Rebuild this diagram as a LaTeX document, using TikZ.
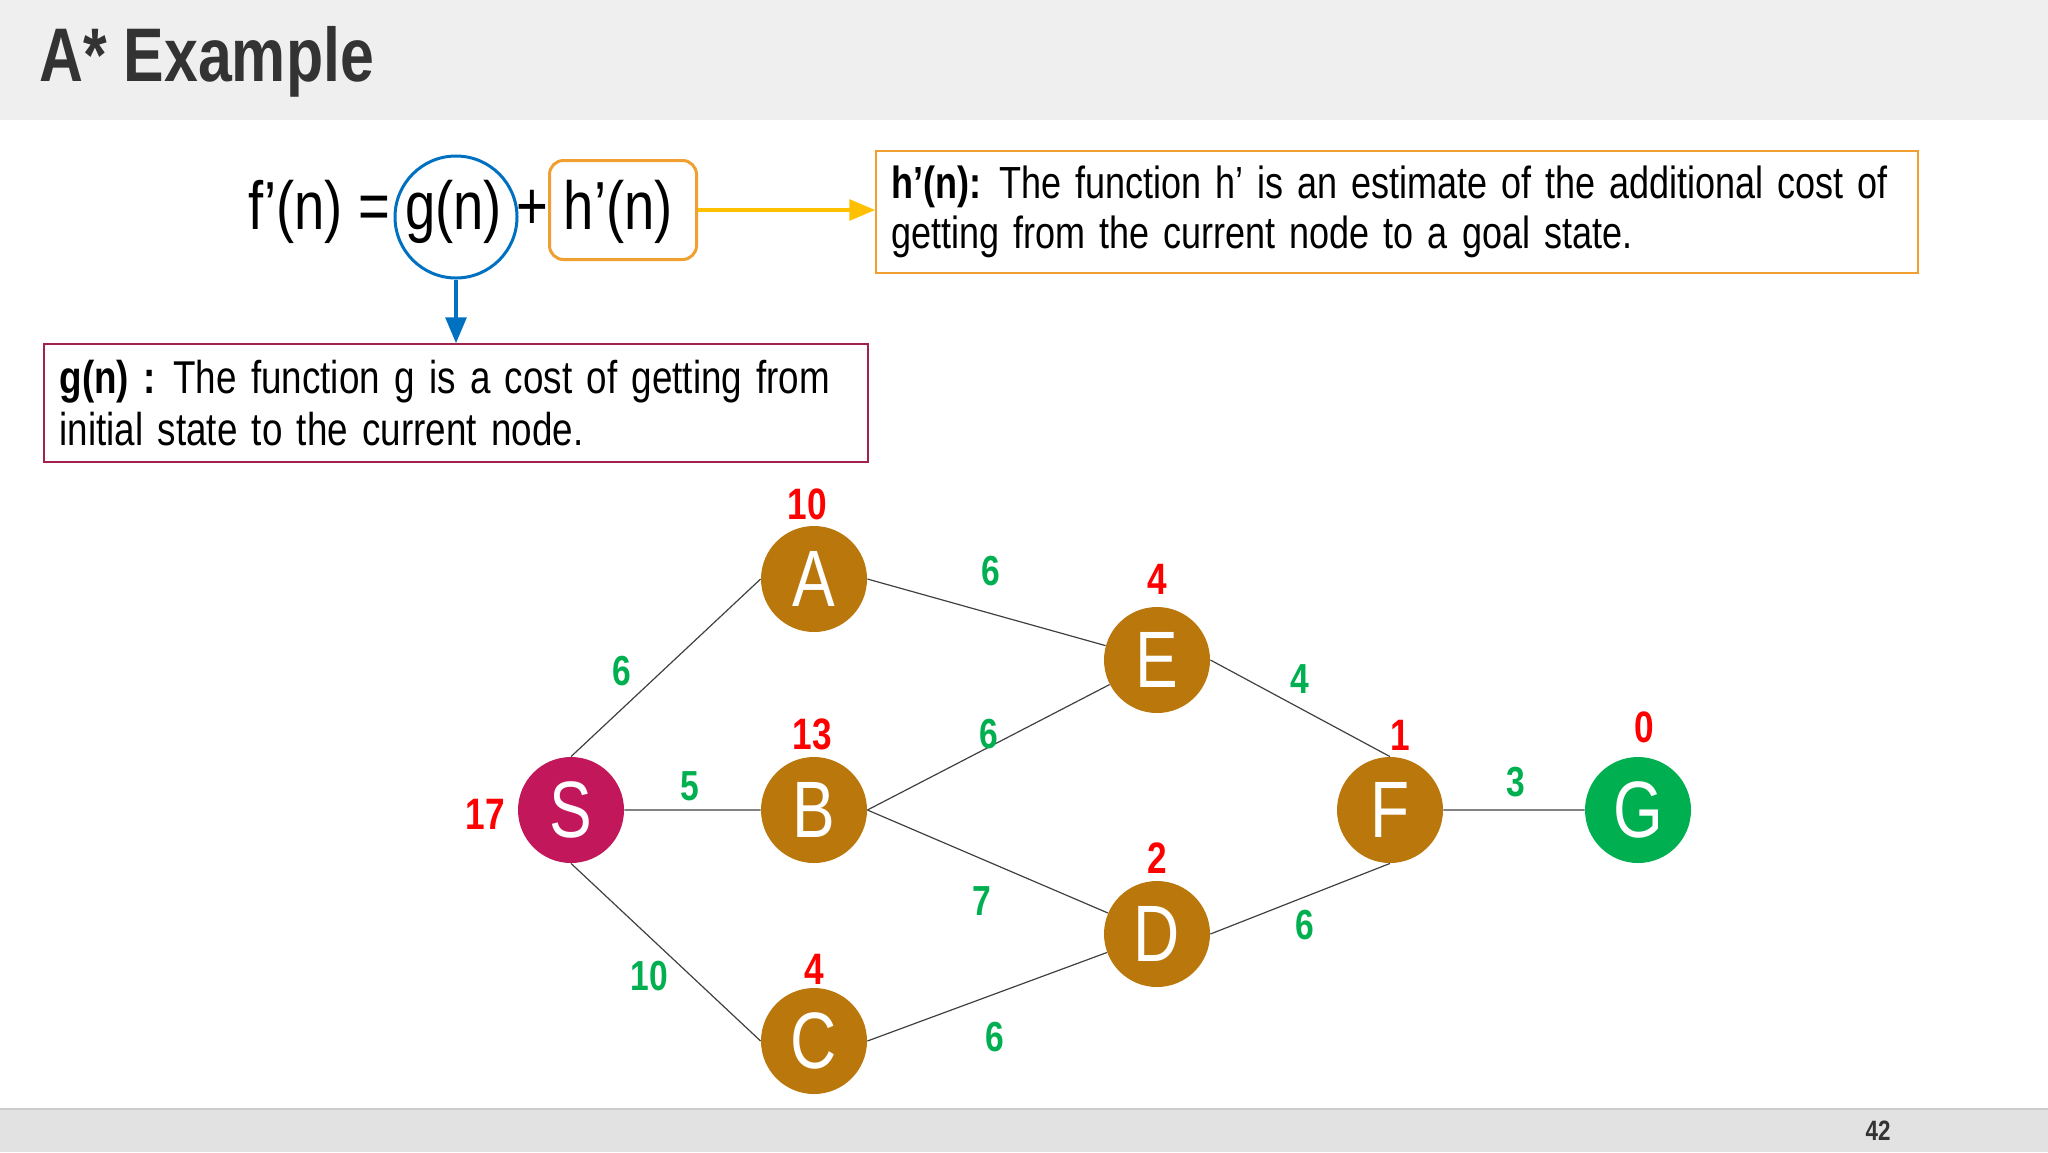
\documentclass[tikz,border=0pt]{standalone}
\usepackage{fontspec}
\setmainfont{Liberation Sans}[FakeStretch=0.8]
\newfontfamily\boxfont{Liberation Sans}[FakeStretch=0.8,WordSpace=1.4]
\usetikzlibrary{positioning,arrows,shapes.geometric}

\definecolor{headgray}{HTML}{EFEFEF}
\definecolor{footgray}{HTML}{E2E2E2}
\definecolor{darktext}{HTML}{333333}
\definecolor{nodebrown}{HTML}{BA780C}
\definecolor{startpink}{HTML}{C2185B}
\definecolor{goalgreen}{HTML}{00AF50}
\definecolor{costgreen}{HTML}{00AF50}
\definecolor{gblue}{HTML}{0070C0}
\definecolor{horange}{HTML}{F0A030}
\definecolor{harrow}{HTML}{FFC000}
\definecolor{gborder}{HTML}{A3214F}

\begin{document}
\begin{tikzpicture}[x=0.5pt,y=-0.5pt]
    \tikzstyle{every node}=[inner sep=0]
    \tikzstyle{state}=[circle,fill=nodebrown,minimum size=53pt,text=white,font=\fontsize{40}{40}\selectfont]
    \tikzstyle{heur}=[text=red,font=\bfseries\fontsize{22}{22}\selectfont]
    \tikzstyle{cost}=[text=costgreen,font=\bfseries\fontsize{21}{21}\selectfont]
    \tikzstyle{link}=[draw=black!75,line width=0.6pt]
    \tikzstyle{formula}=[font=\fontsize{34}{34}\selectfont]
    \tikzstyle{explain}=[align=flush left,anchor=north west,line width=0.75pt]
    {
        \useasboundingbox (0,0) rectangle (2048,1152);
        \fill[headgray] (0,0) rectangle (2048,120);
        \fill[footgray] (0,1109) rectangle (2048,1152);
        \draw[black!20,line width=1pt] (0,1109) -- (2048,1109);
        \node[anchor=base west,text=darktext,font=\bfseries\fontsize{38}{38}\selectfont] (title) at (39,81) {A* Example};
        \node[text=darktext,font=\bfseries\fontsize{14}{14}\selectfont] (page) at (1878,1131) {42};

        % formula
        \node[formula,anchor=west] (fexpr) at (248,212) {f’(n) = g(n) + h’(n)};
        \node[circle,draw=gblue,line width=1.5pt,minimum size=61pt] (gn) at (456,217) {};
        \node[draw=horange,rounded corners=7pt,line width=1.5pt,minimum width=73.5pt,minimum height=49.5pt] (hn) at (623,210) {};

        \node[explain,draw=horange,text width=505pt,inner xsep=8pt,minimum height=61pt,font=\boxfont\fontsize{22.5}{25}\selectfont] (hbox) at (875,150)
            {\textbf{h’(n):} The function h’ is an estimate of the additional cost of\\getting from the current node to a goal state.};
        \node[explain,draw=gborder,text width=396pt,inner xsep=8pt,minimum height=59pt,font=\boxfont\fontsize{23}{26}\selectfont] (gbox) at (43,343)
            {\textbf{g(n) :} The function g is a cost of getting from\\initial state to the current node.};

        \draw[->,>=triangle 45,line width=2pt,harrow] (hn.east) -- (hn.east -| hbox.west);
        \draw[->,>=triangle 45,line width=2pt,gblue] (gn.south) -- (gn.south |- gbox.north);

        % graph
        \node[state,fill=startpink] (S) at (571,810) {S};
        \node[state] (A) at (814,579) {A};
        \node[state] (B) at (814,810) {B};
        \node[state] (C) at (814,1041) {C};
        \node[state] (E) at (1157,660) {E};
        \node[state] (D) at (1157,934) {D};
        \node[state] (F) at (1390,810) {F};
        \node[state,fill=goalgreen] (G) at (1638,810) {G};

        \node[heur] (hS) at (485,814) {17};
        \node[heur] (hA) at (807,504) {10};
        \node[heur] (hB) at (812,734) {13};
        \node[heur] (hC) at (814,969) {4};
        \node[heur] (hE) at (1157,579) {4};
        \node[heur] (hD) at (1157,858) {2};
        \node[heur] (hF) at (1400,735) {1};
        \node[heur] (hG) at (1644,727) {0};

        \path[link]
            (S.north) -- (A.west)
            (S) -- (B)
            (S.south) -- (C.west)
            (A.east) -- (E)
            (B.east) -- (E)
            (B.east) -- (D)
            (C.east) -- (D)
            (E.east) -- (F.north)
            (D.east) -- (F.south)
            (F) -- (G);

        \node[cost] (cSA) at (622,671) {6};
        \node[cost] (cSB) at (690,786) {5};
        \node[cost] (cSC) at (649,976) {10};
        \node[cost] (cAE) at (991,571) {6};
        \node[cost] (cBE) at (989,734) {6};
        \node[cost] (cBD) at (982,901) {7};
        \node[cost] (cCD) at (995,1037) {6};
        \node[cost] (cEF) at (1300,679) {4};
        \node[cost] (cDF) at (1305,925) {6};
        \node[cost] (cFG) at (1516,782) {3};
    }
\end{tikzpicture}
\end{document}
